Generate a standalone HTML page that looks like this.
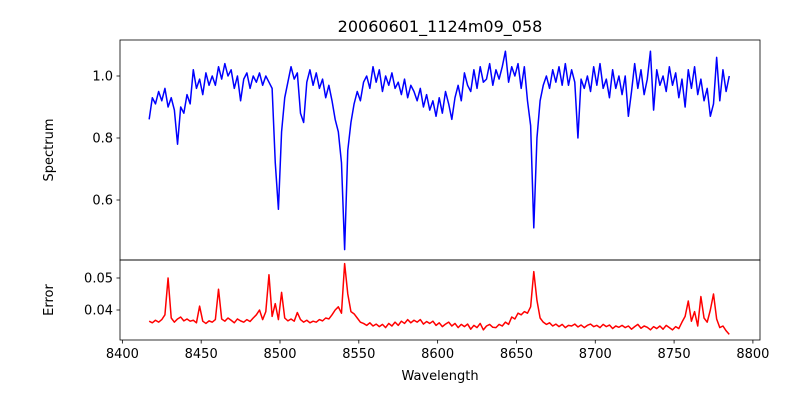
<!DOCTYPE html>
<html><head><meta charset="utf-8"><style>
html,body{margin:0;padding:0;background:#fff;}
svg{display:block;font-family:"DejaVu Sans","Liberation Sans",sans-serif;}
</style></head><body>
<svg id="chart" width="800" height="400" viewBox="0 0 800 400" xmlns="http://www.w3.org/2000/svg">
<rect width="800" height="400" fill="#fff"/>
<text x="440" y="32" font-size="16" text-anchor="middle">20060601_1124m09_058</text>
<g id="topPanel"></g>
<g id="botPanel"></g>
<text transform="translate(53,150) rotate(-90)" font-size="13" text-anchor="middle">Spectrum</text>
<text transform="translate(53,300) rotate(-90)" font-size="13" text-anchor="middle">Error</text>
<text x="440" y="380" font-size="13" text-anchor="middle">Wavelength</text>
</svg>
<script>
const wlStart = 8417, wlStep = 2;
const xTicks = [8400,8450,8500,8550,8600,8650,8700,8750,8800];
const fluxTicks = [0.6,0.8,1.0];
const errTicks = [0.04,0.05];
const flux = [
0.86,0.93,0.91,0.95,0.92,0.96,0.90,0.93,0.89,0.78,
0.90,0.88,0.94,0.91,1.02,0.96,0.99,0.94,1.01,0.97,
1.00,0.97,1.03,0.99,1.04,1.00,1.02,0.96,1.00,0.92,
0.99,1.01,0.96,1.00,0.98,1.01,0.97,1.00,0.98,0.96,
0.72,0.57,0.82,0.93,0.98,1.03,0.99,1.01,0.88,0.85,
0.98,1.02,0.97,1.01,0.96,0.99,0.93,0.97,0.92,0.86,
0.82,0.72,0.44,0.76,0.85,0.91,0.95,0.92,0.98,1.00,
0.96,1.03,0.98,1.02,0.95,1.00,0.97,1.01,0.96,0.98,
0.94,0.99,0.93,0.97,0.95,0.92,0.96,0.90,0.94,0.89,
0.92,0.87,0.93,0.88,0.95,0.91,0.86,0.93,0.97,0.92,
1.01,0.97,0.95,1.02,0.96,1.03,0.98,0.99,1.04,0.97,
1.02,0.99,1.03,1.08,0.98,1.03,1.00,1.04,0.96,1.03,
0.92,0.84,0.51,0.80,0.92,0.97,1.00,0.96,1.02,0.98,
1.03,0.97,1.04,0.97,1.02,0.98,0.80,0.99,0.96,1.00,
0.95,1.03,0.97,1.04,0.96,0.99,0.93,1.02,0.96,1.00,
0.94,1.00,0.87,0.95,1.04,0.96,1.02,0.94,0.99,1.08,
0.89,1.02,0.97,1.00,0.95,1.03,0.97,1.01,0.93,0.99,
0.90,1.02,0.96,1.03,0.94,0.99,0.92,0.96,0.87,0.91,
1.06,0.92,1.02,0.95,1.00];
const err = [
0.0365,0.0360,0.0368,0.0362,0.0370,0.0385,0.0500,0.0375,0.0362,0.0372,
0.0378,0.0366,0.0372,0.0365,0.0368,0.0360,0.0412,0.0365,0.0358,0.0366,
0.0362,0.0370,0.0465,0.0372,0.0365,0.0375,0.0368,0.0360,0.0372,0.0366,
0.0362,0.0370,0.0364,0.0375,0.0385,0.0400,0.0370,0.0395,0.0510,0.0380,
0.0420,0.0370,0.0455,0.0375,0.0366,0.0372,0.0365,0.0392,0.0370,0.0362,
0.0368,0.0360,0.0365,0.0362,0.0370,0.0366,0.0375,0.0372,0.0385,0.0400,
0.0410,0.0390,0.0545,0.0450,0.0395,0.0388,0.0375,0.0362,0.0358,0.0352,
0.0360,0.0350,0.0356,0.0348,0.0355,0.0345,0.0358,0.0350,0.0362,0.0352,
0.0365,0.0358,0.0370,0.0360,0.0368,0.0362,0.0370,0.0356,0.0364,0.0358,
0.0365,0.0352,0.0360,0.0348,0.0356,0.0362,0.0350,0.0358,0.0345,0.0355,
0.0348,0.0356,0.0340,0.0352,0.0345,0.0358,0.0338,0.0350,0.0355,0.0346,
0.0345,0.0355,0.0350,0.0362,0.0355,0.0378,0.0372,0.0390,0.0385,0.0395,
0.0390,0.0410,0.0520,0.0430,0.0375,0.0362,0.0355,0.0360,0.0350,0.0356,
0.0348,0.0355,0.0345,0.0352,0.0350,0.0356,0.0347,0.0353,0.0345,0.0352,
0.0356,0.0348,0.0352,0.0345,0.0355,0.0348,0.0353,0.0342,0.0350,0.0346,
0.0352,0.0345,0.0350,0.0340,0.0348,0.0355,0.0343,0.0350,0.0346,0.0338,
0.0348,0.0342,0.0350,0.0340,0.0352,0.0345,0.0338,0.0348,0.0342,0.0362,
0.0380,0.0428,0.0365,0.0395,0.0350,0.0442,0.0375,0.0362,0.0400,0.0450,
0.0372,0.0345,0.0350,0.0335,0.0324];

const NS='http://www.w3.org/2000/svg';
const L=120, R=760;
const xMin=8398.5, xMax=8804.5;
const xs = v => L + (v-xMin)/(xMax-xMin)*(R-L);
const topY = v => 76 + (1.0 - v)*310;
const botY = v => 278 + (0.05 - v)*3200;
function mk(tag, attrs, parent){const e=document.createElementNS(NS,tag);for(const k in attrs)e.setAttribute(k,attrs[k]);parent.appendChild(e);return e;}

function panel(g, y0, y1, values, yf, ticks, fmt, color, name){
  const clipId='clip-'+name;
  const cp=mk('clipPath',{id:clipId},g);
  mk('rect',{x:L,y:y0,width:R-L,height:y1-y0},cp);
  let d='';
  values.forEach((v,i)=>{const w=wlStart+i*wlStep;d+=(i?'L':'M')+xs(w).toFixed(2)+','+yf(v).toFixed(2);});
  const p=mk('path',{d:d,fill:'none',stroke:color,'stroke-width':1.5,'stroke-linejoin':'round','clip-path':'url(#'+clipId+')'},g);
  
  
  ticks.forEach(t=>{
    const y=yf(t);
    const tk=mk('line',{x1:L-3.5,x2:L,y1:y,y2:y,stroke:'#000','stroke-width':0.8},g);
    
    
    const tx=mk('text',{x:L-7,y:y+4.5,'font-size':13,'text-anchor':'end'},g);
    
    
    tx.textContent=fmt(t);
  });
  const fr=mk('rect',{x:L,y:y0,width:R-L,height:y1-y0,fill:'none',stroke:'#000','stroke-width':0.8},g);
  
  
}
const topG=document.getElementById('topPanel'), botG=document.getElementById('botPanel');
panel(topG,40,260,flux,topY,fluxTicks,t=>t.toFixed(1),'#0000ff','spectrum');
panel(botG,260,340,err,botY,errTicks,t=>t.toFixed(2),'#ff0000','error');
xTicks.forEach(t=>{
  const x=xs(t);
  const tk=mk('line',{x1:x,x2:x,y1:340,y2:343.5,stroke:'#000','stroke-width':0.8},botG);
  
  
  const tx=mk('text',{x:x,y:358,'font-size':13,'text-anchor':'middle'},botG);
  
  
  tx.textContent=t;
});
</script>
</body></html>
